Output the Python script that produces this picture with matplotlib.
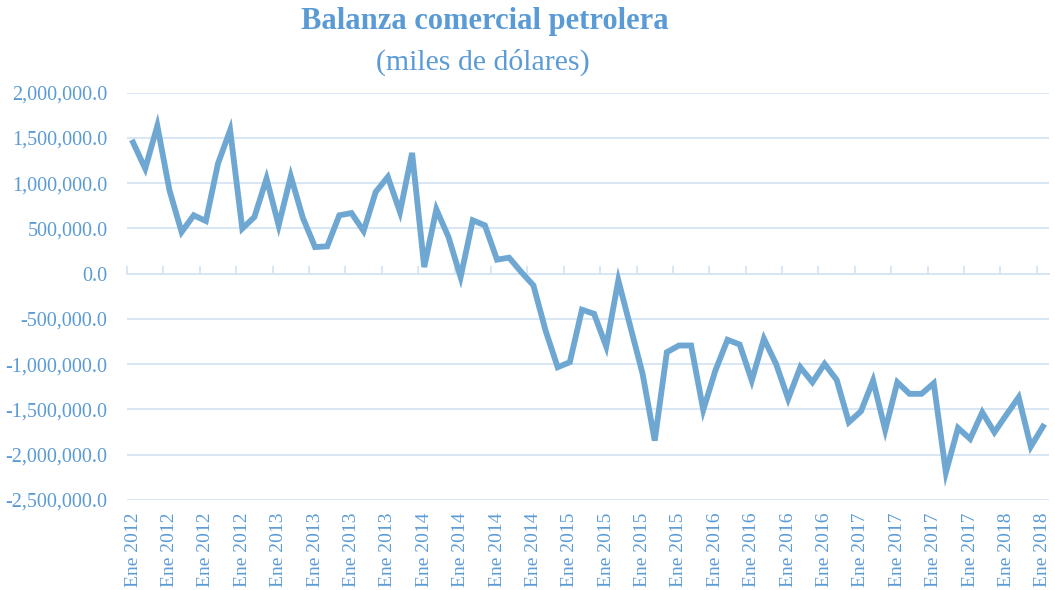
import matplotlib
matplotlib.use("Agg")
import matplotlib.pyplot as plt
from matplotlib.ticker import FuncFormatter

plt.rcParams['font.family'] = ['Liberation Serif', 'DejaVu Serif']

# monthly oil trade balance, thousands of dollars, Jan 2012 .. Apr 2018
balanza = [
    1449000, 1161000, 1633000, 921000, 460000, 645000, 582000, 1217000,
    1585000, 498000, 626000, 1051000, 534000, 1076000, 615000, 294000,
    302000, 645000, 670000, 471000, 903000, 1069000, 682000, 1334000,
    73000, 711000, 405000, -37000, 590000, 534000, 155000, 177000,
    18000, -129000, -627000, -1033000, -978000, -398000, -443000, -804000,
    -74000, -590000, -1106000, -1844000, -867000, -793000, -793000, -1505000,
    -1070000, -730000, -782000, -1180000, -719000, -996000, -1383000, -1033000,
    -1199000, -996000, -1173000, -1641000, -1520000, -1180000, -1726000, -1199000,
    -1327000, -1327000, -1210000, -2195000, -1704000, -1825000, -1531000, -1752000,
    -1556000, -1365000, -1910000, -1689000,
]
meses = list(range(len(balanza)))
etiquetas_pos = meses[::3]
etiquetas = ['Ene %d' % (2012 + m // 12) for m in etiquetas_pos]
y_ticks = list(range(-2500000, 2000001, 500000))

azul_linea = '#6fa7d3'
azul_texto = '#5b9bd5'
azul_grid = '#d6e5f3'

fig = plt.figure(figsize=(10.55, 5.9), dpi=100)
ax = fig.add_axes([0.1204, 0.1525, 0.8739, 0.6905])

ax.plot(meses, balanza, color=azul_linea, lw=4.2, solid_joinstyle='miter', zorder=3)

ax.set_xlim(-0.5, len(balanza) - 0.5)
ax.set_ylim(-2500000, 2000000)
ax.set_yticks(y_ticks)
ax.yaxis.set_major_formatter(FuncFormatter(lambda v, p: '{:,.1f}'.format(v)))
ax.grid(axis='y', color=azul_grid, lw=1.3)
ax.set_axisbelow(True)
ax.tick_params(axis='y', length=0, pad=14, labelsize=14.5, labelcolor=azul_texto)

ax.set_xticks(etiquetas_pos)
ax.set_xticklabels(etiquetas, rotation=90, va='top', ha='center')
ax.tick_params(axis='x', length=0, pad=9, labelsize=14, labelcolor=azul_texto)

for s in ax.spines.values():
    s.set_visible(False)

# horizontal axis line at zero with tick marks between category groups
frac0 = (0 - (-2500000)) / (2000000 - (-2500000))
sec = ax.secondary_xaxis(frac0)
sec.set_xticks([p - 0.5 for p in etiquetas_pos])
sec.tick_params(axis='x', direction='out', length=6, width=1.3, color=azul_grid,
                labelbottom=False, labeltop=False)
sec.spines['bottom'].set_color(azul_grid)
sec.spines['bottom'].set_linewidth(1.3)
sec.spines['top'].set_color(azul_grid)
sec.spines['top'].set_linewidth(1.3)

fig.text(0.46, 0.964, 'Balanza comercial petrolera', ha='center', va='center',
         fontsize=22, fontweight='bold', color=azul_texto)
fig.text(0.458, 0.895, '(miles de dólares)', ha='center', va='center',
         fontsize=21.5, color=azul_texto)

fig.savefig('out.png', dpi=100, facecolor='white')
